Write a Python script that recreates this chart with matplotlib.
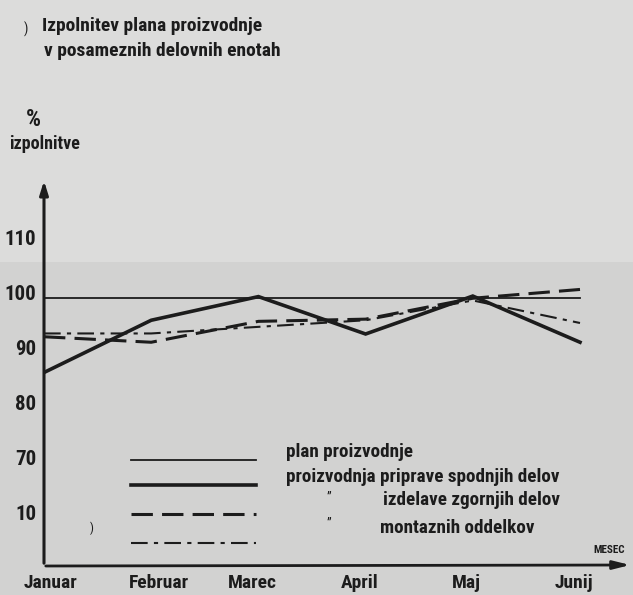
import matplotlib
matplotlib.use("Agg")
import matplotlib.pyplot as plt

months = ["Januar", "Februar", "Marec", "April", "Maj", "Junij"]
plan = [100, 100, 100, 100, 100, 100]
spodnji = [86.5, 96.0, 100.3, 93.5, 100.4, 92.0]
zgornji = [93.0, 92.0, 95.8, 96.2, 100.0, 101.6]
montaza = [93.6, 93.6, 94.8, 96.0, 99.6, 95.5]
yticks = [110, 100, 90, 80, 70, 60]
ytick_labels = ["110", "100", "90", "80", "70", "10"]

W, H = 633, 595
INK = "#1c1c1c"
BG = "#dcdcdb"
BAND = "#d2d2d1"
FONT = ["Roboto Condensed", "DejaVu Sans"]
plt.rcParams["font.family"] = FONT
WT = "bold"

fig = plt.figure(figsize=(W / 100, H / 100), dpi=100, facecolor=BG)

def fx(px):
    return px / W

def fy(py):
    return 1 - py / H

# darker paper band (scan)
fig.add_artist(matplotlib.patches.Rectangle((0, 0), 1, fy(262), transform=fig.transFigure,
                                            facecolor=BAND, edgecolor="none", zorder=-10))

# axes: left at x=44px, bottom (x-axis) at y=565px, top at y=180px, right at 633px
left, right, bottom, top = 44, 633, 565, 180
ax = fig.add_axes([fx(left), fy(bottom), fx(right - left), fy(top) - fy(bottom)])
ax.set_facecolor("none")
x = list(range(len(months)))
step = (580 - 44) / 5.0
ax.set_xlim(0, (right - left) / step)
ax.set_ylim(51.5, 121.5)
for s in ax.spines.values():
    s.set_visible(False)
ax.set_xticks([])
ax.set_yticks([])

ax.plot(x, plan, color=INK, lw=1.3)
ax.plot(x, spodnji, color=INK, lw=2.6, solid_joinstyle="miter")
ax.plot(x, zgornji, color=INK, lw=2.2, dashes=(7, 3))
ax.plot(x, montaza, color=INK, lw=1.5, dashes=(8, 3, 2, 3))

# axes arrows
fig.add_artist(matplotlib.patches.FancyArrowPatch(
    (fx(44), fy(566)), (fx(44), fy(178)), transform=fig.transFigure,
    arrowstyle="-|>,head_length=8,head_width=2.5", color=INK, lw=2.2))
fig.add_artist(matplotlib.patches.FancyArrowPatch(
    (fx(43), fy(566)), (fx(633), fy(565)), transform=fig.transFigure,
    arrowstyle="-|>,head_length=10,head_width=2.5", color=INK, lw=2.0))

# y tick labels
for v, lab in zip(yticks, ytick_labels):
    ax.text(-0.07, v + 0.6, lab, ha="right", va="center", fontsize=15,
            color=INK, fontweight=WT, clip_on=False)

# month labels
month_px = [50, 159, 252, 360, 466, 574]
for m, px in zip(months, month_px):
    fig.text(fx(px), fy(583), m, ha="center", va="center", fontsize=14,
             color=INK, fontweight=WT)

fig.text(fx(609), fy(550), "MESEC", ha="center", va="center", fontsize=8,
         color=INK, fontweight=WT)

# title
fig.text(fx(26), fy(29), ")", ha="center", va="center", fontsize=10, color=INK)
fig.text(fx(42), fy(26), "Izpolnitev plana proizvodnje", ha="left", va="center",
         fontsize=14, color=INK, fontweight=WT)
fig.text(fx(44), fy(51), "v posameznih delovnih enotah", ha="left", va="center",
         fontsize=14, color=INK, fontweight=WT)

# y axis title
fig.text(fx(33), fy(119), "%", ha="center", va="center", fontsize=17,
         color=INK, fontweight=WT)
fig.text(fx(9), fy(144), "izpolnitve", ha="left", va="center", fontsize=13,
         color=INK, fontweight=WT)

# legend
leg_y = [460, 485, 514, 543]
styles = [dict(lw=1.3), dict(lw=2.6), dict(lw=2.2, dashes=(7, 3)),
          dict(lw=1.5, dashes=(8, 3, 2, 3))]
for ly, st in zip(leg_y, styles):
    fig.add_artist(matplotlib.lines.Line2D([fx(131), fx(256)], [fy(ly), fy(ly)],
                                           transform=fig.transFigure, color=INK, **st))
fig.text(fx(286), fy(452), "plan proizvodnje", ha="left", va="center",
         fontsize=13.8, color=INK, fontweight=WT)
fig.text(fx(286), fy(477), "proizvodnja priprave spodnjih delov", ha="left",
         va="center", fontsize=13.8, color=INK, fontweight=WT)
fig.text(fx(329), fy(497), "\u201d", ha="center", va="center", fontsize=10, color=INK)
fig.text(fx(383), fy(500), "izdelave zgornjih delov", ha="left", va="center",
         fontsize=13.8, color=INK, fontweight=WT)
fig.text(fx(329), fy(523), "\u201d", ha="center", va="center", fontsize=10, color=INK)
fig.text(fx(380), fy(528), "montaznih oddelkov", ha="left", va="center",
         fontsize=13.8, color=INK, fontweight=WT)
fig.text(fx(92), fy(528), ")", ha="center", va="center", fontsize=9, color=INK)

fig.savefig("out.png", dpi=100, facecolor=BG)
